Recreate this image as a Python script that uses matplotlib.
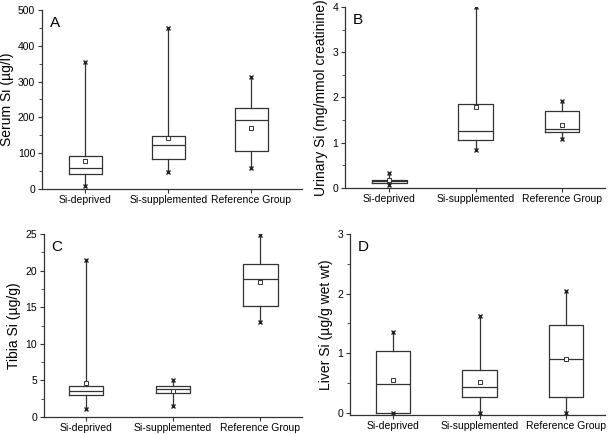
import matplotlib
matplotlib.use("Agg")
import matplotlib.pyplot as plt
from matplotlib.ticker import MultipleLocator, AutoMinorLocator

plt.rcParams['font.family'] = ['Liberation Sans', 'DejaVu Sans']

groups = ["Si-deprived", "Si-supplemented", "Reference Group"]

# each panel: min, Q1, median, Q3, max, mean per group
serum_min = [8, 47, 60]
serum_q1 = [42, 84, 107]
serum_med = [60, 123, 192]
serum_q3 = [91, 147, 227]
serum_max = [356, 450, 312]
serum_mean = [77, 143, 171]

urine_min = [0.07, 0.83, 1.08]
urine_q1 = [0.11, 1.05, 1.23]
urine_med = [0.15, 1.25, 1.30]
urine_q3 = [0.18, 1.85, 1.70]
urine_max = [0.32, 4.0, 1.93]
urine_mean = [0.17, 1.78, 1.39]

tibia_min = [1.05, 1.45, 13.0]
tibia_q1 = [3.05, 3.25, 15.1]
tibia_med = [3.5, 3.85, 18.8]
tibia_q3 = [4.3, 4.3, 20.9]
tibia_max = [21.4, 5.0, 24.9]
tibia_mean = [4.65, 3.55, 18.45]

liver_min = [0.0, 0.0, 0.0]
liver_q1 = [0.0, 0.27, 0.27]
liver_med = [0.49, 0.43, 0.90]
liver_q3 = [1.03, 0.72, 1.47]
liver_max = [1.36, 1.62, 2.05]
liver_mean = [0.55, 0.52, 0.91]

panels = [
    dict(letter="A", ylabel="Serum Si (\u00b5g/l)", ylim=(0, 500), major=100,
         xlim=(0.48, 3.61), rect=[0.069, 0.5645, 0.426, 0.4125],
         data=(serum_min, serum_q1, serum_med, serum_q3, serum_max, serum_mean)),
    dict(letter="B", ylabel="Urinary Si (mg/mmol creatinine)", ylim=(0, 4), major=1,
         xlim=(0.49, 3.5), rect=[0.566, 0.567, 0.426, 0.417],
         data=(urine_min, urine_q1, urine_med, urine_q3, urine_max, urine_mean)),
    dict(letter="C", ylabel="Tibia Si (\u00b5g/g)", ylim=(0, 25), major=5,
         xlim=(0.517, 3.48), rect=[0.072, 0.039, 0.423, 0.422],
         data=(tibia_min, tibia_q1, tibia_med, tibia_q3, tibia_max, tibia_mean)),
    dict(letter="D", ylabel="Liver Si (\u00b5g/g wet wt)", ylim=(-0.033, 3), major=1,
         xlim=(0.503, 3.45), rect=[0.574, 0.044, 0.418, 0.417],
         data=(liver_min, liver_q1, liver_med, liver_q3, liver_max, liver_mean)),
]

fig = plt.figure(figsize=(6.1, 4.34), dpi=100)
positions = [1, 2, 3]

for p in panels:
    ax = fig.add_axes(p["rect"])
    mn, q1, md, q3, mx, mu = p["data"]
    stats = []
    for i, g in enumerate(groups):
        stats.append(dict(label=g, whislo=mn[i], q1=q1[i], med=md[i], q3=q3[i],
                          whishi=mx[i], mean=mu[i], fliers=[]))
    lw = 0.9
    ax.bxp(stats, positions=positions, widths=0.4, showmeans=True, showcaps=False,
           showfliers=False,
           boxprops=dict(color="#333333", linewidth=lw),
           medianprops=dict(color="#333333", linewidth=lw),
           whiskerprops=dict(color="#333333", linewidth=lw),
           meanprops=dict(marker="s", markerfacecolor="white", markeredgecolor="#333333",
                          markersize=3, markeredgewidth=0.7))
    ax.plot(positions, mx, linestyle="none", marker="x", color="#222222",
            markersize=3, markeredgewidth=1.0)
    ax.plot(positions, mn, linestyle="none", marker="x", color="#222222",
            markersize=3, markeredgewidth=1.0)
    ax.set_xlim(*p["xlim"])
    ax.set_ylim(*p["ylim"])
    ax.yaxis.set_major_locator(MultipleLocator(p["major"]))
    ax.yaxis.set_minor_locator(AutoMinorLocator(2))
    ax.set_xticks(positions)
    ax.set_xticklabels(groups)
    for s in ["top", "right"]:
        ax.spines[s].set_visible(False)
    for s in ["left", "bottom"]:
        ax.spines[s].set_color("#333333")
        ax.spines[s].set_linewidth(0.9)
    ax.tick_params(axis="both", which="major", direction="out", length=3,
                   width=0.8, labelsize=7.5, colors="#333333", labelcolor="black", pad=2)
    ax.tick_params(axis="x", which="major", pad=1.5)
    ax.tick_params(axis="y", which="minor", direction="out", length=2, width=0.6,
                   colors="#333333")
    ax.set_ylabel(p["ylabel"], fontsize=10, labelpad=3)
    ax.text(0.03, 0.965, p["letter"], transform=ax.transAxes, fontsize=11,
            ha="left", va="top")

fig.savefig("out.png", dpi=100)
